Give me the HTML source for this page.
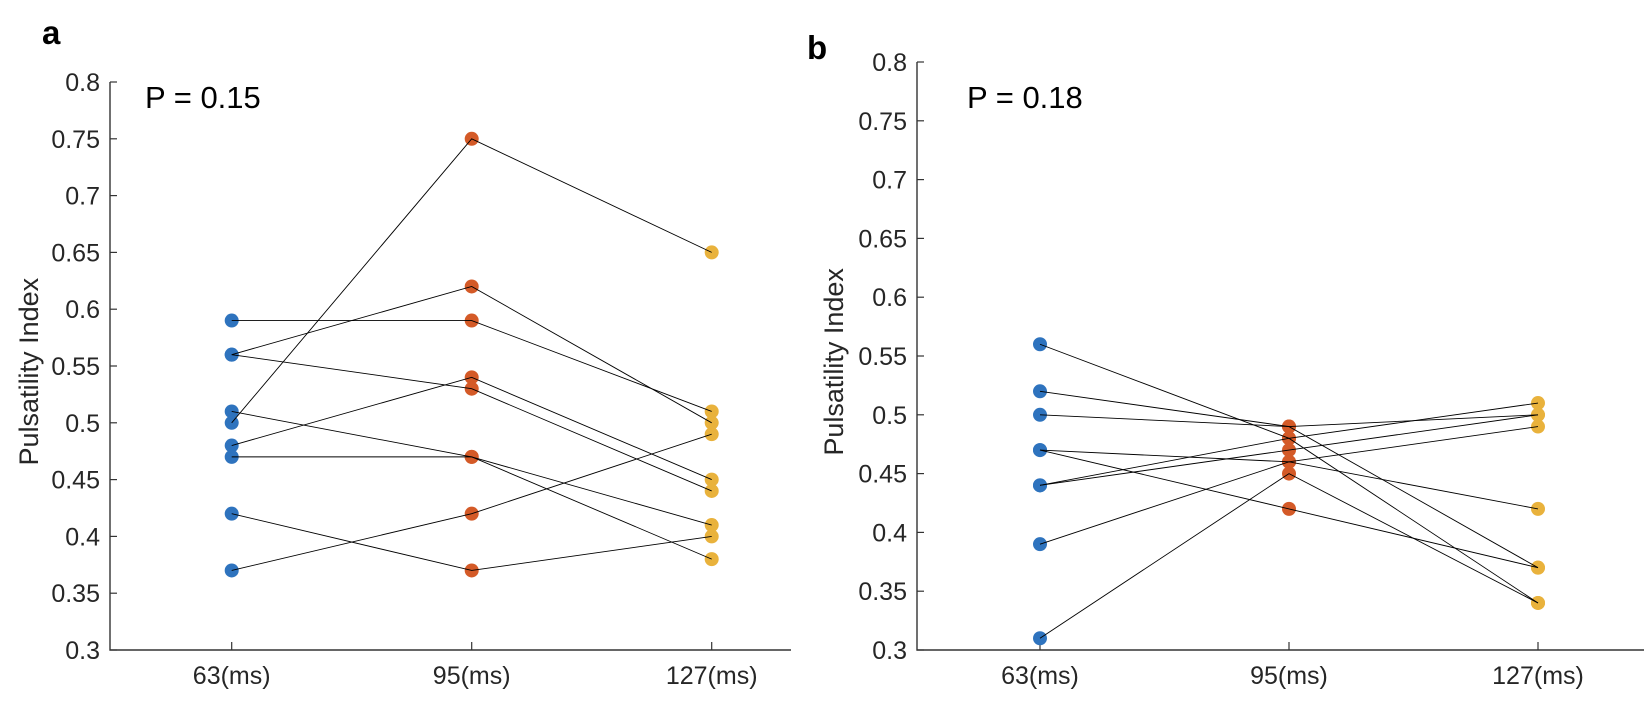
<!DOCTYPE html>
<html><head><meta charset="utf-8"><style>
html,body{margin:0;padding:0;background:#fff;}
svg{display:block;font-family:"Liberation Sans",Arial,sans-serif;}
</style></head><body>
<svg id="chart" width="1652" height="716" viewBox="0 0 1652 716">
<text x="42" y="44" font-size="33" font-weight="bold">a</text>
<text x="807" y="59" font-size="33" font-weight="bold">b</text>
</svg>
<script>
const categories = ["63(ms)","95(ms)","127(ms)"];
const yTicks = [0.3,0.35,0.4,0.45,0.5,0.55,0.6,0.65,0.7,0.75,0.8];
const yTickLabels = ["0.3","0.35","0.4","0.45","0.5","0.55","0.6","0.65","0.7","0.75","0.8"];
const aT63 = [0.50,0.56,0.59,0.56,0.48,0.51,0.47,0.42,0.37];
const aT95 = [0.75,0.62,0.59,0.53,0.54,0.47,0.47,0.37,0.42];
const aT127 = [0.65,0.50,0.51,0.44,0.45,0.41,0.38,0.40,0.49];
const bT63 = [0.56,0.52,0.50,0.47,0.47,0.44,0.44,0.39,0.31];
const bT95 = [0.48,0.49,0.49,0.46,0.42,0.48,0.47,0.46,0.45];
const bT127 = [0.34,0.37,0.50,0.49,0.37,0.51,0.50,0.42,0.34];
const pA = "P = 0.15", pB = "P = 0.18";
const colors = ["#2E73BE","#D45A27","#E9B23C"];
const NS="http://www.w3.org/2000/svg";
const svg=document.getElementById('chart');
function mk(tag,attrs,parent){const e=document.createElementNS(NS,tag);for(const k in attrs)e.setAttribute(k,attrs[k]);(parent||svg).appendChild(e);return e;}
function panel(id,ox,top,xs,right,s1,s2,s3,ptxt,ptx,ylx){
  const bottom=650;
  const y=v=>bottom-(v-0.3)*(bottom-top)/0.5;
  const x=i=>xs[i];
  const g=mk('g',{});
  
  
  const ax=mk('path',{d:`M${ox} ${top} V${bottom} H${right}`,stroke:'#333','stroke-width':1.4,fill:'none'},g);
  
  
  yTicks.forEach((v,i)=>{
    const t=mk('line',{x1:ox,x2:ox+7,y1:y(v),y2:y(v),stroke:'#333','stroke-width':1.2},g);
    
    
    const l=mk('text',{x:ox-10,y:y(v)+9,'font-size':25,'text-anchor':'end',fill:'#262626'},g);
    l.textContent=yTickLabels[i];
    
    
  });
  categories.forEach((c,i)=>{
    const t=mk('line',{x1:x(i),x2:x(i),y1:bottom,y2:bottom-8,stroke:'#333','stroke-width':1.2},g);
    
    
    const l=mk('text',{x:x(i),y:684,'font-size':25,'text-anchor':'middle',fill:'#262626'},g);
    l.textContent=c;
    
    
  });
  const yl=mk('text',{x:0,y:0,'font-size':27,'text-anchor':'middle',fill:'#262626',transform:`translate(${ylx},${y(0.545)}) rotate(-90)`},g);
  yl.textContent='Pulsatility Index';
  
  
  const pt=mk('text',{x:ptx,y:108,'font-size':31,fill:'#000'},g);
  pt.textContent=ptxt;
  
  
  const sets=[s1,s2,s3];
  for(let k=0;k<s1.length;k++){
    for(let j=0;j<3;j++){
      const d=mk('circle',{cx:x(j),cy:y(sets[j][k]),r:7,fill:colors[j]},g);
      
      
    }
  }
  for(let k=0;k<s1.length;k++){
    const ln=mk('polyline',{points:[0,1,2].map(j=>x(j)+','+y(sets[j][k])).join(' '),stroke:'#000','stroke-width':0.9,fill:'none'},g);
    
    
  }
}
panel('panel-a',110,82,[231.7,471.7,711.7],791,aT63,aT95,aT127,pA,145,38);
panel('panel-b',917,62,[1040,1289,1538],1644,bT63,bT95,bT127,pB,967,843);
</script>
</body></html>
